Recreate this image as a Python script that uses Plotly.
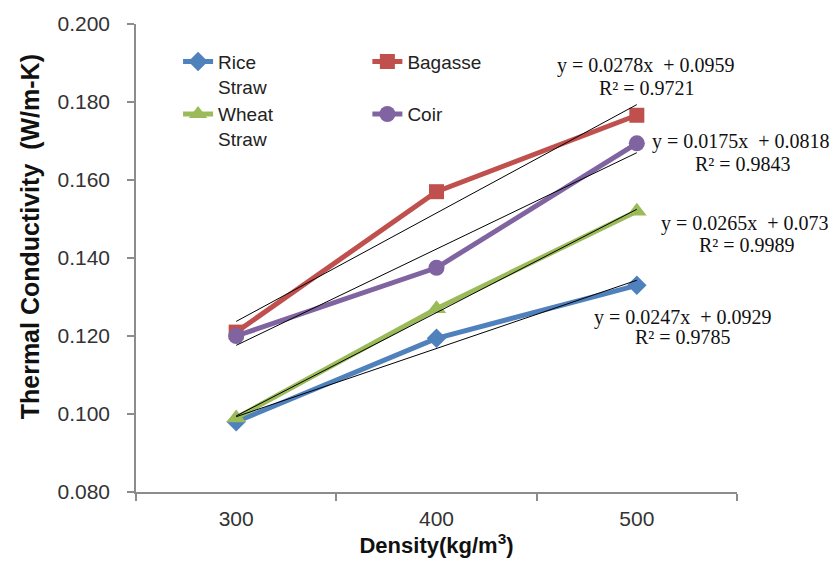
import numpy as np
import plotly.graph_objects as go

# ---- data ----
densities = ["300", "400", "500"]
rice_straw = [0.098, 0.1194, 0.133]
bagasse = [0.121, 0.157, 0.1766]
wheat_straw = [0.099, 0.127, 0.152]
coir = [0.120, 0.1375, 0.1694]

series_names = ["Rice<br>Straw", "Bagasse<br>\u00a0", "Wheat<br>Straw", "Coir"]
series_values = [rice_straw, bagasse, wheat_straw, coir]
series_colors = ["#4F81BD", "#C0504D", "#9BBB59", "#8064A2"]
series_symbols = ["diamond", "square", "triangle-up", "circle"]
series_sizes = [15, 15, 17, 16]
series_legend = ["legend", "legend2", "legend", "legend2"]

# trendline equations as printed on the chart
eq_lines = ["y = 0.0278x  + 0.0959", "y = 0.0175x  + 0.0818",
            "y = 0.0265x  + 0.073", "y = 0.0247x  + 0.0929"]
r2_lines = ["R² = 0.9721", "R² = 0.9843", "R² = 0.9989", "R² = 0.9785"]
# label anchor positions (paper coordinates)
eq_pos = [(0.849, 0.911), (1.007, 0.749), (1.013, 0.574), (0.910, 0.373)]
r2_pos = [(0.850, 0.863), (1.010, 0.700), (1.017, 0.527), (0.910, 0.331)]

fig = go.Figure()

for name, vals, col, sym, sz, lg in zip(series_names, series_values, series_colors,
                                        series_symbols, series_sizes, series_legend):
    fig.add_trace(go.Scatter(
        x=densities, y=vals, name=name, mode="lines+markers",
        line=dict(color=col, width=5),
        marker=dict(symbol=sym, size=sz, color=col),
        legend=lg,
    ))

# linear trendlines (least squares fits of each series)
idx = np.arange(1, len(densities) + 1)
for vals in series_values:
    k, b = np.polyfit(idx, vals, 1)
    fig.add_trace(go.Scatter(
        x=densities, y=list(k * idx + b), mode="lines",
        line=dict(color="black", width=1), showlegend=False, hoverinfo="skip",
    ))

ann_font = dict(family="Liberation Serif", size=20, color="#111111")
for txt, (xv, yv) in zip(eq_lines + r2_lines, eq_pos + r2_pos):
    fig.add_annotation(x=xv, y=yv, xref="paper", yref="paper", text=txt, showarrow=False,
                       xanchor="center", yanchor="middle", font=ann_font)

# y axis title (placed as in the reference, slightly above centre)
fig.add_annotation(x=-0.175, y=0.546, xref="paper", yref="paper",
                   text="<b>Thermal Conductivity  (W/m-K)</b>", textangle=-90,
                   showarrow=False, xanchor="center", yanchor="middle",
                   font=dict(family="Liberation Sans, Arial", size=25, color="#111111"))

axis_col = "#8C8C8C"
fig.update_layout(
    width=833, height=573,
    margin=dict(l=136, r=96, t=18, b=81),
    paper_bgcolor="white", plot_bgcolor="white",
    font=dict(family="Liberation Sans, Arial", size=19, color="#333333"),
    xaxis=dict(
        type="category", range=[-0.5, 2.5], tickson="boundaries",
        showline=True, linecolor=axis_col, linewidth=1.5,
        ticks="outside", ticklen=7, tickcolor=axis_col, tickwidth=1.5,
        showgrid=False, zeroline=False,
        tickfont=dict(size=21, color="#333333"), ticklabelstandoff=7,
        title=dict(text="<b>Density(kg/m<sup>3</sup>)</b>", font=dict(size=22, color="#111111"), standoff=8),
    ),
    yaxis=dict(
        range=[0.080, 0.200], tickvals=[0.080, 0.100, 0.120, 0.140, 0.160, 0.180, 0.200],
        tickformat=".3f",
        showline=True, linecolor=axis_col, linewidth=1.5,
        ticks="outside", ticklen=7, tickcolor=axis_col, tickwidth=1.5,
        showgrid=False, zeroline=False,
        tickfont=dict(size=21, color="#333333"), ticklabelstandoff=13,
    ),
    legend=dict(x=0.07, y=0.96, xanchor="left", yanchor="top", bgcolor="rgba(0,0,0,0)",
                font=dict(size=19, color="#222222"), valign="top", orientation="v"),
    legend2=dict(x=0.385, y=0.96, xanchor="left", yanchor="top", bgcolor="rgba(0,0,0,0)",
                 font=dict(size=19, color="#222222"), valign="top", orientation="v"),
    showlegend=True,
)

fig.write_html("out.html")
